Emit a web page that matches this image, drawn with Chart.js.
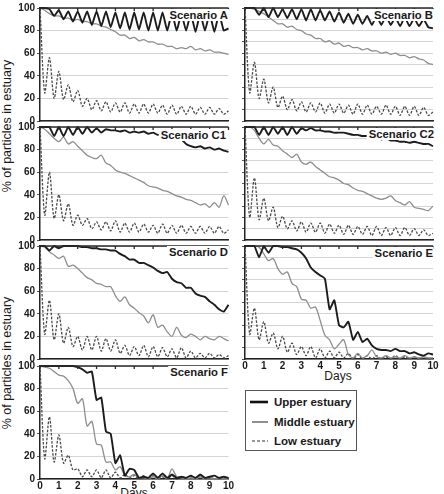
<!DOCTYPE html>
<html>
<head>
<meta charset="utf-8">
<script src="https://cdn.jsdelivr.net/npm/chart.js@4.4.0/dist/chart.umd.min.js"></script>
<style>
  body { margin: 0; background: #fff; }
  #page {
    position: relative; width: 444px; height: 494px; overflow: hidden;
    background: #fff; color: #1a1a1a;
    font-family: "Liberation Sans", Arial, sans-serif;
  }
  #page canvas { position: absolute; }
  .scen {
    position: absolute; font-weight: bold; font-size: 11.3px; white-space: nowrap;
    transform: translate(-100%, -50%); background: #fff; padding: 0 1px 0 2px; line-height: 12px;
  }
  .ylab { position: absolute; font-size: 12.5px; white-space: nowrap; transform: translate(-50%, -50%) rotate(-90deg); }
  .days { position: absolute; font-size: 12px; white-space: nowrap; transform: translate(-50%, -50%); }
  #legend { position: absolute; left: 245px; top: 390px; width: 110px; height: 59px; border: 1px solid #555; background: #fff; }
  #legend .item { position: absolute; left: 4px; font-size: 11.5px; font-weight: bold; white-space: nowrap; transform: translateY(-50%); display: flex; align-items: center; }
  #legend svg { margin-right: 6px; }
</style>
</head>
<body>
<div id="page">
  <div class="ylab" style="left:7px; top:126px;">% of particles in estuary</div>
  <div class="ylab" style="left:7px; top:363px;">% of particles in estuary</div>

  <div class="days" style="left:338px; top:376px;">Days</div>
  <div class="days" style="left:134px; top:493px;">Days</div>

  <div id="legend">
    <div class="item" style="top:11px;"><svg width="18" height="6"><line x1="0" y1="3" x2="18" y2="3" stroke="#111" stroke-width="2.6"/></svg>Upper estuary</div>
    <div class="item" style="top:31px;"><svg width="18" height="6"><line x1="2" y1="3" x2="18" y2="3" stroke="#333" stroke-width="1.1"/></svg>Middle estuary</div>
    <div class="item" style="top:50px;"><svg width="18" height="6"><line x1="2" y1="3" x2="18" y2="3" stroke="#333" stroke-width="1.1" stroke-dasharray="3,2"/></svg>Low estuary</div>
  </div>
</div>

<script>
// Time axis (days), one value every quarter day
const days = [0, 0.25, 0.5, 0.75, 1, 1.25, 1.5, 1.75, 2, 2.25, 2.5, 2.75, 3, 3.25, 3.5, 3.75, 4, 4.25, 4.5, 4.75,
  5, 5.25, 5.5, 5.75, 6, 6.25, 6.5, 6.75, 7, 7.25, 7.5, 7.75, 8, 8.25, 8.5, 8.75, 9, 9.25, 9.5, 9.75, 10];

// % of particles remaining
const upperA = [100,100,99,93,98,90,97,88,97,87,97,85,97,84,97,83,96,82,96,81,96,81,96,80,96,80,96,80,96,80,95,80,95,79,95,80,95,79,95,80,82];
const middleA = [100,98,95,93,93,91,91,89,90,88,88,86,86,84,83,81,79,76,76,73,74,71,72,70,70,68,68,66,66,64,65,64,66,63,64,62,63,61,61,60,59];
const lowA = [100,25,56,20,44,19,32,17,27,13,20,10,18,9,17,8,16,8,16,7,15,7,15,7,15,7,14,6,14,6,13,6,13,6,12,6,12,6,11,6,9];

const upperB = [100,100,100,94,100,92,100,92,99,91,99,90,99,89,99,89,98,89,97,88,96,87,95,86,94,86,93,85,93,85,93,85,92,84,92,84,91,84,90,83,82];
const middleB = [100,100,99,97,95,92,89,86,86,83,84,81,80,77,76,73,73,70,71,68,69,66,67,65,65,63,64,62,62,60,61,59,60,58,58,56,57,55,54,51,50];
const lowB = [100,25,52,20,37,16,30,12,22,10,19,9,17,8,16,8,16,7,15,7,15,7,14,6,15,6,14,6,13,6,14,6,13,5,13,5,13,5,12,5,8];

const upperC1 = [100,100,100,92,100,92,100,93,100,94,100,95,99,95,98,97,97,96,97,95,96,95,96,94,95,93,94,92,92,90,89,85,83,82,83,81,82,80,81,79,78];
const middleC1 = [100,98,94,90,87,91,85,87,83,79,75,73,72,75,68,66,62,60,59,57,55,53,51,48,47,46,44,43,41,39,38,36,35,33,31,32,29,33,29,39,31];
const lowC1 = [100,22,60,19,40,17,32,13,22,13,19,10,16,9,16,8,17,7,15,7,15,7,14,7,13,6,14,6,13,6,13,6,12,6,12,6,12,6,12,6,9];

const upperC2 = [100,100,100,93,100,93,100,94,100,93,100,94,99,97,99,97,97,96,96,95,95,95,94,93,93,92,92,91,91,89,90,88,88,87,87,86,87,86,85,85,83];
const middleC2 = [100,100,97,90,85,89,84,83,79,76,73,76,69,67,69,65,62,59,56,55,53,50,49,46,44,43,41,39,37,36,37,39,35,33,31,34,29,28,27,26,30];
const lowC2 = [100,20,55,18,37,17,29,11,21,10,17,8,16,7,15,7,15,6,14,6,13,5,13,5,12,5,12,4,12,4,11,4,11,4,11,4,10,4,9,4,6];

const upperD = [100,100,96,100,98,100,100,100,100,99,99,98,98,97,97,96,96,93,91,88,88,85,85,83,81,78,76,77,71,68,67,63,63,58,56,55,51,48,44,42,48];
const middleD = [100,99,95,92,89,91,82,83,80,76,72,70,67,66,64,64,56,51,55,48,45,41,38,32,39,28,30,24,20,28,21,19,22,20,17,20,18,17,20,18,16];
const lowD = [100,22,52,17,40,14,28,11,20,8,20,8,20,7,18,7,17,5,12,3,11,3,12,2,11,2,10,2,9,1,10,1,7,1,5,1,5,1,4,1,3];

const upperE = [100,100,100,90,100,94,100,100,99,99,98,97,94,89,81,77,74,71,44,52,30,28,33,17,24,15,18,12,9,8,8,7,9,7,7,5,6,4,3,5,4];
const middleE = [100,100,100,99,93,87,89,80,75,77,67,64,53,52,45,46,34,21,17,9,13,17,4,1,5,1,3,8,2,1,3,1,2,1,3,1,2,1,2,1,1];
const lowE = [100,22,45,17,33,14,23,9,20,6,14,4,11,3,11,1,9,1,7,1,6,1,5,0,4,0,3,0,3,0,2,0,3,0,2,0,2,0,1,0,1];

const upperF = [100,100,100,100,100,100,100,100,99,97,94,95,70,72,42,40,14,21,3,9,8,1,2,1,5,1,5,1,4,1,2,1,3,1,4,1,2,3,1,2,1];
const middleF = [100,99,98,95,92,91,87,80,67,71,47,51,31,30,15,15,8,11,3,2,4,1,1,0,2,0,3,0,9,2,1,0,1,0,2,0,1,0,1,0,0];
const lowF = [100,18,55,15,39,14,21,8,9,2,8,2,8,1,8,1,6,1,4,1,3,0,3,0,3,0,2,0,3,0,2,0,2,0,2,0,2,0,1,0,1];

const scenarioNames = ["Scenario A", "Scenario B", "Scenario C1", "Scenario C2", "Scenario D", "Scenario E", "Scenario F"];

// Panel grid: plot area edges in page pixels
const ROW_TOP = [8, 127, 246, 366];
const ROW_BOTTOM = [121, 240, 359, 479];

const panels = [
  { row: 0, col: 0, upper: upperA, middle: middleA, low: lowA, title: [229, 15] },
  { row: 0, col: 1, upper: upperB, middle: middleB, low: lowB, title: [434, 15] },
  { row: 1, col: 0, upper: upperC1, middle: middleC1, low: lowC1, title: [227, 135] },
  { row: 1, col: 1, upper: upperC2, middle: middleC2, low: lowC2, title: [435, 134] },
  { row: 2, col: 0, upper: upperD, middle: middleD, low: lowD, title: [229, 252] },
  { row: 2, col: 1, upper: upperE, middle: middleE, low: lowE, title: [434, 253], xLabels: true },
  { row: 3, col: 0, upper: upperF, middle: middleF, low: lowF, title: [229, 372], xLabels: true },
];

Chart.defaults.font.family = "'Liberation Sans', Arial, sans-serif";
Chart.defaults.color = "#1a1a1a";

// Draw the top frame line with small day ticks hanging down
const topFrame = {
  id: "topFrame",
  afterDraw(chart) {
    const { ctx, chartArea: a, scales } = chart;
    ctx.save();
    ctx.strokeStyle = "#2a2a2a";
    ctx.lineWidth = 1.3;
    ctx.beginPath();
    ctx.moveTo(a.left, a.top);
    ctx.lineTo(a.right, a.top);
    for (let d = 0; d <= 10; d++) {
      const x = scales.x.getPixelForValue(d);
      ctx.moveTo(x, a.top);
      ctx.lineTo(x, a.top + 3);
    }
    ctx.stroke();
    ctx.restore();
  },
};

function toPoints(values) {
  return days.map((d, i) => ({ x: d, y: values[i] }));
}

function buildPanel(p, index) {
  const page = document.getElementById("page");
  const canvas = document.createElement("canvas");
  const left = p.col === 0 ? 0 : 236;
  const width = p.col === 0 ? 236 : 204;
  const yAxisWidth = p.col === 0 ? 40 : 9;
  const padRight = p.col === 0 ? 7.5 : 7;
  const top = ROW_TOP[p.row] - 8;
  const bottomSpace = p.xLabels ? 15 : 8;
  const height = ROW_BOTTOM[p.row] - ROW_TOP[p.row] + 8 + bottomSpace;

  canvas.width = width;
  canvas.height = height;
  canvas.style.left = left + "px";
  canvas.style.top = top + "px";
  canvas.style.width = width + "px";
  canvas.style.height = height + "px";
  page.appendChild(canvas);

  // Scenario name sits in the top-right corner over the lines
  const label = document.createElement("div");
  label.className = "scen";
  label.textContent = scenarioNames[index];
  label.style.left = p.title[0] + "px";
  label.style.top = p.title[1] + "px";
  page.appendChild(label);

  new Chart(canvas.getContext("2d"), {
    type: "line",
    data: {
      datasets: [
        {
          label: "Upper estuary",
          data: toPoints(p.upper),
          borderColor: "#1c1c1c",
          borderWidth: 1.9,
          tension: 0.15,
        },
        {
          label: "Middle estuary",
          data: toPoints(p.middle),
          borderColor: "#8e8e8e",
          borderWidth: 1.3,
          tension: 0.3,
        },
        {
          label: "Low estuary",
          data: toPoints(p.low),
          borderColor: "#4a4a4a",
          borderWidth: 1.3,
          borderDash: [2.5, 1.5],
          tension: 0.3,
        },
      ],
    },
    options: {
      responsive: false,
      animation: false,
      devicePixelRatio: 1,
      layout: { padding: { top: 8, right: padRight, bottom: p.xLabels ? 0 : 8, left: 0 } },
      elements: { point: { radius: 0 } },
      datasets: { line: { clip: 4 } },
      plugins: { legend: { display: false }, tooltip: { enabled: false } },
      scales: {
        x: {
          type: "linear",
          min: 0,
          max: 10,
          grid: { display: false, drawTicks: false },
          border: { display: true, color: "#222", width: 1.5 },
          ticks: {
            display: !!p.xLabels,
            stepSize: 1,
            padding: 1,
            maxRotation: 0,
            autoSkip: false,
            color: "#1a1a1a",
            font: { size: 10, weight: "bold" },
          },
          afterFit: (s) => {
            s.height = p.xLabels ? 15 : 0;
          },
        },
        y: {
          min: 0,
          max: 100,
          grid: { color: "#d4d4d4", lineWidth: 1, tickColor: "#555", tickLength: 3 },
          border: { display: true, color: "#222", width: 1.5 },
          ticks: {
            display: p.col === 0,
            stepSize: 10,
            padding: 2,
            color: "#1a1a1a",
            font: { size: 10, weight: "bold" },
            // Labels only every 20 %
            callback: (v) => (v % 20 === 0 ? v : ""),
          },
          afterFit: (s) => {
            s.width = yAxisWidth;
          },
        },
      },
    },
    plugins: [topFrame],
  });
}

panels.forEach(buildPanel);
</script>
</body>
</html>
